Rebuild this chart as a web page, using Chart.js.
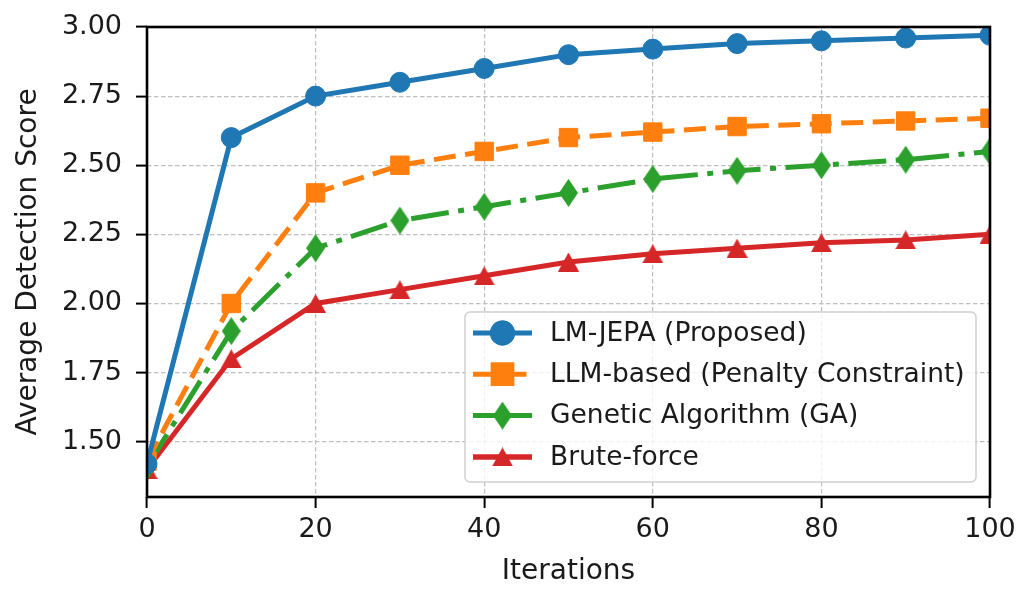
<!DOCTYPE html>
<html>
<head>
<meta charset="utf-8">
<script src="https://cdn.jsdelivr.net/npm/chart.js@4.4.0/dist/chart.umd.min.js"></script>
<style>
  html, body { margin: 0; padding: 0; background: #fff; }
</style>
</head>
<body>
<canvas id="chart" width="1029" height="591"></canvas>
<script>
// Data
const iterations = [0, 10, 20, 30, 40, 50, 60, 70, 80, 90, 100];
const lmJepa = [1.42, 2.60, 2.75, 2.80, 2.85, 2.90, 2.92, 2.94, 2.95, 2.96, 2.97];
const llmBased = [1.43, 2.00, 2.40, 2.50, 2.55, 2.60, 2.62, 2.64, 2.65, 2.66, 2.67];
const geneticAlg = [1.41, 1.90, 2.20, 2.30, 2.35, 2.40, 2.45, 2.48, 2.50, 2.52, 2.55];
const bruteForce = [1.40, 1.80, 2.00, 2.05, 2.10, 2.15, 2.18, 2.20, 2.22, 2.23, 2.25];
const seriesNames = ['LM-JEPA (Proposed)', 'LLM-based (Penalty Constraint)', 'Genetic Algorithm (GA)', 'Brute-force'];
const xTicks = [0, 20, 40, 60, 80, 100];
const yTicks = [1.50, 1.75, 2.00, 2.25, 2.50, 2.75, 3.00];

const FONT = 'DejaVu Sans';
const TEXT = '#1a1a1a';

// matplotlib-like marker shapes
function thinDiamond(color, w, h) {
  const c = document.createElement('canvas');
  c.width = w; c.height = h;
  const g = c.getContext('2d');
  g.fillStyle = color;
  g.beginPath();
  g.moveTo(w / 2, 0);
  g.lineTo(w, h / 2);
  g.lineTo(w / 2, h);
  g.lineTo(0, h / 2);
  g.closePath();
  g.fill();
  return c;
}

function triangleUp(color, w, h) {
  const c = document.createElement('canvas');
  c.width = w; c.height = h;
  const g = c.getContext('2d');
  g.fillStyle = color;
  g.beginPath();
  g.moveTo(w / 2, 0);
  g.lineTo(w, h);
  g.lineTo(0, h);
  g.closePath();
  g.fill();
  return c;
}

const blue = '#1f77b4', orange = '#ff7f0e', green = '#2ca02c', red = '#d62728';

function series(label, data, color, dash, pointStyle, radius) {
  return {
    label,
    data: iterations.map((x, i) => ({ x, y: data[i] })),
    borderColor: color,
    backgroundColor: color,
    borderWidth: 5,
    borderDash: dash,
    borderCapStyle: 'butt',
    pointStyle,
    pointRadius: radius,
    pointBorderWidth: 1,
    pointBorderColor: color,
    pointBackgroundColor: color,
    tension: 0,
    fill: false,
    clip: 0
  };
}

const datasets = [
  series(seriesNames[0], lmJepa, blue, [], 'circle', 10),
  series(seriesNames[1], llmBased, orange, [22, 9.5], 'rect', 13),
  series(seriesNames[2], geneticAlg, green, [38, 9.5, 6, 9.5], thinDiamond(green, 19, 28), 10),
  series(seriesNames[3], bruteForce, red, [], triangleUp(red, 21, 19), 10)
];

// spines drawn over the lines, like matplotlib
const spines = {
  id: 'spines',
  afterDatasetsDraw(chart) {
    const { ctx, chartArea: a } = chart;
    ctx.save();
    ctx.strokeStyle = '#000';
    ctx.lineWidth = 2.6;
    ctx.strokeRect(a.left, a.top, a.right - a.left, a.bottom - a.top);
    ctx.restore();
  }
};

// matplotlib style legend in the lower right
const legendBox = {
  id: 'legendBox',
  afterDraw(chart) {
    const { ctx, chartArea: a } = chart;
    const w = 511, h = 170;
    const left = a.right - 14 - w, top = a.bottom - 15 - h;
    ctx.save();
    ctx.beginPath();
    ctx.roundRect(left, top, w, h, 5);
    ctx.fillStyle = 'rgba(255,255,255,0.8)';
    ctx.fill();
    ctx.strokeStyle = '#d0d0d0';
    ctx.lineWidth = 1.5;
    ctx.stroke();

    chart.data.datasets.forEach((ds, i) => {
      const y = top + 21 + i * 41.3;
      ctx.beginPath();
      ctx.setLineDash(ds.borderDash);
      ctx.lineCap = 'butt';
      ctx.strokeStyle = ds.borderColor;
      ctx.lineWidth = ds.borderWidth;
      ctx.moveTo(left + 8, y);
      ctx.lineTo(left + 67, y);
      ctx.stroke();
      ctx.setLineDash([]);
      Chart.helpers.drawPoint(ctx, {
        pointStyle: ds.pointStyle,
        radius: ds.pointRadius,
        borderWidth: 1,
        rotation: 0
      }, left + 37.5, y);
      ctx.fillStyle = ds.borderColor;
      ctx.strokeStyle = ds.borderColor;
      ctx.fill();
      ctx.stroke();

      ctx.fillStyle = TEXT;
      ctx.font = '26.5px "' + FONT + '"';
      ctx.textBaseline = 'middle';
      ctx.textAlign = 'left';
      ctx.fillText(ds.label, left + 85, y + 1);
    });
    ctx.restore();
  }
};

const gridOpts = {
  color: '#bfbfbf',
  lineWidth: 1.2,
  tickColor: '#000',
  tickWidth: 2,
  tickLength: 11,
  tickBorderDash: []
};

new Chart(document.getElementById('chart'), {
  type: 'line',
  data: { datasets },
  options: {
    responsive: false,
    animation: false,
    events: [],
    layout: { padding: { left: 0, top: 27, right: 39, bottom: 0 } },
    plugins: { legend: { display: false }, tooltip: { enabled: false } },
    scales: {
      x: {
        type: 'linear',
        min: 0,
        max: 100,
        afterBuildTicks: s => { s.ticks = xTicks.map(v => ({ value: v })); },
        afterFit: s => { s.height = 94; s.paddingLeft = 0; s.paddingRight = 0; },
        border: { display: false, dash: [4.5, 2.5] },
        grid: gridOpts,
        ticks: {
          padding: 6,
          color: TEXT,
          font: { family: FONT, size: 27 },
          maxRotation: 0
        },
        title: {
          display: true,
          text: 'Iterations',
          color: TEXT,
          font: { family: FONT, size: 28 },
          padding: { top: 0, bottom: 2 }
        }
      },
      y: {
        type: 'linear',
        min: 1.3,
        max: 3.0,
        afterBuildTicks: s => { s.ticks = yTicks.map(v => ({ value: v })); },
        afterFit: s => { s.width = 147; s.paddingTop = 0; s.paddingBottom = 0; },
        border: { display: false, dash: [4.5, 2.5] },
        grid: gridOpts,
        ticks: {
          padding: 14,
          color: TEXT,
          font: { family: FONT, size: 27 },
          callback: v => Number(v).toFixed(2)
        },
        title: {
          display: true,
          text: 'Average Detection Score',
          color: TEXT,
          font: { family: FONT, size: 28 },
          padding: { top: 12, bottom: 0 }
        }
      }
    }
  },
  plugins: [spines, legendBox]
});
</script>
</body>
</html>
